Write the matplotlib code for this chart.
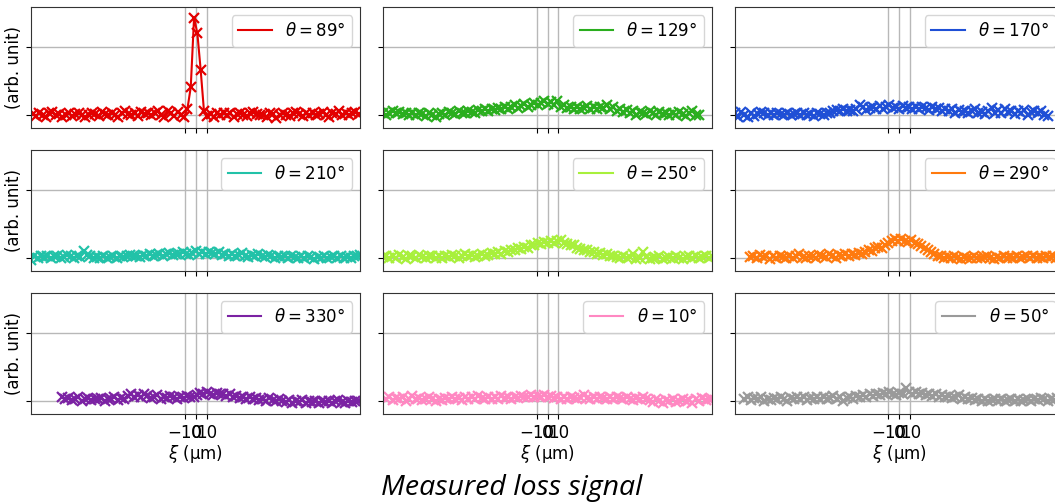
import numpy as np
import matplotlib
matplotlib.use("Agg")
import matplotlib.pyplot as plt

# scan step of the measurement (µm) and start position of each scan
step = 3.0
angles = [89, 129, 170, 210, 250, 290, 330, 10, 50]
colors = ['#e30000', '#2aae1e', '#1f4fd6', '#22c2a8', '#a8f03c',
          '#ff7a0e', '#7b22a3', '#ff88c2', '#9a9a9a']
x_start = [-148.5, -150, -150, -150, -150, -136, -122, -147, -141]

# loss signal (arb. unit)
y89 = [0.01, -0.02, 0.03, 0.00, -0.03, 0.02, 0.04, -0.01, 0.01, -0.03,
       0.00, 0.02, -0.02, 0.01, 0.03, -0.01, -0.04, 0.00, 0.02, 0.01,
       -0.02, 0.04, 0.01, -0.01, 0.03, 0.00, -0.03, 0.02, 0.05, 0.01,
       0.00, 0.03, -0.02, 0.04, 0.01, 0.02, -0.01, 0.03, 0.05, 0.00,
       -0.04, 0.06, 0.02, -0.02, 0.04, 0.00, -0.03,
       0.09, 0.41, 1.44, 1.21, 0.67, 0.06,
       -0.02, 0.01, -0.03, 0.02, 0.00, 0.03, -0.01,
       0.02, -0.04, 0.01, 0.03, 0.00, -0.02, 0.02, 0.04, 0.01, -0.01,
       0.00, -0.03, 0.02, 0.01, -0.05, -0.01, 0.03, 0.00, -0.02, 0.02,
       0.04, 0.01, -0.02, 0.03, 0.00, 0.02, -0.01, 0.01, 0.04, 0.00,
       -0.03, 0.02, 0.01, 0.05, -0.01, 0.02, 0.00, 0.03, 0.04, 0.01]
y129 = [0.02, -0.01, 0.03, 0.05, 0.02, 0.04, 0.01, 0.03, -0.01, 0.02, 0.00, 0.03, 0.01, -0.02, 0.02, 0.00, -0.03,
        0.01, 0.03, 0.00, 0.04, 0.02, 0.01, 0.05, 0.03, 0.02, 0.06, 0.04, 0.03, 0.07,
        0.05, 0.08, 0.06, 0.09, 0.07, 0.10, 0.08, 0.12, 0.09, 0.11, 0.14, 0.10, 0.13, 0.16,
        0.12, 0.15, 0.18, 0.14, 0.17, 0.20, 0.16, 0.19, 0.15, 0.21,
        0.12, 0.14, 0.10, 0.11, 0.08, 0.12, 0.09, 0.10, 0.13, 0.08, 0.11, 0.09, 0.12,
        0.10, 0.14, 0.08, 0.11, 0.06, 0.09, 0.04, 0.07, 0.02, 0.05, -0.01, 0.04, 0.03,
        0.01, 0.05, 0.02, 0.00, 0.04, 0.01, 0.03, -0.01, 0.02, 0.00, 0.04, 0.01, -0.02, 0.03, 0.06, 0.00, -0.01]
y170 = [0.02, -0.03, 0.04, 0.00, -0.04, 0.03, -0.02, 0.01, 0.04, 0.02,
        -0.01, 0.03, 0.00, 0.02, 0.01, -0.01, 0.02, 0.00, 0.01, 0.03,
        -0.01, 0.02, 0.00, 0.01, -0.02, 0.02, 0.01, 0.00, 0.03, 0.02,
        0.05, 0.07, 0.06, 0.08, 0.05, 0.07, 0.06, 0.09, 0.15, 0.11,
        0.07, 0.10, 0.12, 0.08, 0.13, 0.09, 0.11, 0.14, 0.10, 0.12,
        0.09, 0.13, 0.10, 0.12, 0.08, 0.11, 0.09, 0.12, 0.10, 0.07, 0.11, 0.08, 0.10, 0.06,
        0.09, 0.05, 0.08, 0.03, 0.07, 0.04, 0.06, 0.02, 0.05, 0.08, 0.03, 0.04, 0.01, 0.06,
        0.10, 0.03, 0.07, 0.02, 0.08, 0.04, 0.06, 0.01, 0.05, 0.03, 0.07, 0.00, 0.04, 0.06, 0.02, 0.05, 0.00, -0.02]
y210 = [-0.03, 0.02, 0.00, 0.03, 0.01, 0.02, -0.01, 0.03, 0.02, 0.00, 0.01, 0.04, 0.02, 0.00, 0.03, 0.01, 0.10, 0.04, 0.02, -0.01,
        0.01, -0.01, 0.02, 0.00, 0.01, 0.03, 0.00, 0.02, 0.01, 0.03, 0.04, 0.02, 0.03, 0.01, 0.04, 0.02, 0.05, 0.03, 0.04, 0.06,
        0.03, 0.05, 0.07, 0.04, 0.06, 0.05, 0.08, 0.06, 0.04, 0.07, 0.10, 0.06, 0.08, 0.05, 0.09, 0.07, 0.05, 0.08, 0.04, 0.06,
        0.03, 0.05, 0.02, 0.04, 0.07, 0.03, 0.01, 0.04, 0.02, 0.05, 0.03, 0.01, 0.04, 0.02, 0.00, 0.03, 0.01, 0.02, 0.00, 0.03,
        0.01, -0.01, 0.02, 0.00, 0.03, 0.01, -0.02, 0.01, 0.00, 0.02, -0.01, 0.01, 0.03, 0.00, 0.02, -0.01, 0.01, 0.00, 0.03, 0.02, 0.04]
y250 = [0.01, 0.03, -0.01, 0.02, 0.00, 0.04, 0.01, -0.02, 0.03, 0.02, 0.00, 0.04, 0.01, -0.01, 0.02, 0.03, 0.00, 0.02, -0.01, 0.03,
        0.01, 0.04, 0.02, 0.00, 0.03, 0.05, 0.02, 0.04, 0.01, 0.03, 0.06, 0.02, 0.04, 0.07, 0.05, 0.08, 0.06, 0.10, 0.08, 0.12,
        0.11, 0.14, 0.13, 0.16, 0.15, 0.19, 0.18, 0.21, 0.20, 0.23, 0.22, 0.25, 0.21, 0.24, 0.26, 0.22, 0.20, 0.18, 0.19, 0.15,
        0.13, 0.11, 0.12, 0.08, 0.09, 0.06, 0.07, 0.04, 0.05, 0.02, 0.03, 0.01, 0.00, 0.02, -0.01, 0.01, 0.05, -0.02, 0.00, 0.08,
        0.01, -0.02, 0.00, -0.01, 0.02, -0.02, 0.00, 0.01, -0.01, 0.02, 0.00, -0.02, 0.01, 0.03, 0.00, 0.02, -0.01, 0.01, 0.03, 0.00, 0.02]
y290 = [0.01, 0.03, 0.00, 0.04, 0.01, 0.02, -0.02, 0.03, 0.00, 0.02, 0.01, -0.01, 0.03, 0.00, 0.02, 0.05, 0.01, -0.01, 0.03, 0.02,
        0.00, 0.04, 0.02, 0.01, 0.05, 0.03, 0.00, 0.04, 0.02, 0.06, 0.03, 0.05, 0.04, 0.07, 0.05, 0.09, 0.12, 0.10, 0.14, 0.16,
        0.15, 0.19, 0.22, 0.25, 0.27, 0.24, 0.28, 0.25, 0.23, 0.26, 0.22, 0.20, 0.17, 0.15, 0.11, 0.08, 0.06, 0.03, 0.02, 0.00,
        0.01, -0.01, 0.02, 0.00, -0.02, 0.01, 0.00, -0.01, 0.02, 0.00, -0.01, 0.01, 0.03, 0.00, -0.02, 0.01, 0.00, 0.02, -0.01, 0.01,
        0.00, 0.02, -0.01, 0.01, 0.03, 0.00, 0.02, -0.01, 0.01, 0.00, 0.02, 0.01, 0.03, 0.00, 0.02, 0.04]
y330 = [0.05, 0.02, 0.04, 0.01, 0.03, 0.05, 0.00, 0.02, 0.04, 0.01, 0.03, 0.02, 0.04, 0.00, 0.03, 0.02, 0.05, 0.01, 0.04, 0.03,
        0.07, 0.09, 0.06, 0.08, 0.05, 0.09, 0.07, 0.04, 0.06, 0.08, 0.03, 0.06, 0.04, 0.07, 0.05, 0.03, 0.06, 0.04, 0.07, 0.05,
        0.06, 0.08, 0.11, 0.09, 0.12, 0.10, 0.08, 0.11, 0.09, 0.10, 0.07, 0.09, 0.05, 0.07, 0.04, 0.06, 0.03, 0.05, 0.02, 0.04,
        0.01, 0.03, 0.00, 0.04, 0.01, -0.01, 0.02, 0.00, -0.02, 0.01, -0.03, 0.00, -0.02, 0.01, -0.04, -0.01, -0.02, 0.00, -0.03, -0.01,
        -0.02, 0.00, -0.03, -0.01, 0.01, -0.02, -0.04, -0.01, -0.02, 0.00, -0.01]
y10 = [0.03, 0.06, 0.01, 0.04, 0.02, 0.05, 0.00, 0.03, 0.07, 0.02, 0.04, 0.01, 0.03, 0.06, 0.02, -0.01, 0.03, 0.01, 0.04, 0.02,
       0.05, 0.02, 0.04, 0.01, 0.06, 0.03, 0.05, 0.02, 0.07, 0.04, 0.03, 0.06, 0.02, 0.05, 0.03, 0.07, 0.04, 0.06, 0.03, 0.05,
       0.04, 0.07, 0.05, 0.06, 0.08, 0.05, 0.07, 0.06, 0.08, 0.05, 0.07, 0.04, 0.06, 0.03, 0.05, 0.02, 0.06, 0.04, 0.03, 0.05,
       0.08, 0.04, 0.02, 0.05, 0.03, 0.06, 0.04, 0.02, 0.05, 0.03, 0.06, 0.04, 0.02, 0.05, 0.03, 0.01, 0.04, 0.02, 0.05, 0.03,
       0.01, -0.02, 0.02, 0.00, -0.03, 0.01, -0.01, 0.02, -0.02, 0.00, 0.03, -0.01, 0.01, -0.03, 0.02, 0.00, 0.04, 0.01, 0.03, 0.02]
y50 = [0.03, 0.06, 0.01, 0.04, 0.02, 0.05, 0.00, 0.03, 0.01, 0.04, 0.02, 0.05, 0.03, 0.00, 0.04, 0.02, 0.05, 0.03, 0.06, 0.01,
       0.04, 0.02, 0.05, 0.03, 0.06, 0.02, 0.04, 0.07, 0.03, 0.05, -0.01, 0.04, 0.06, 0.03, 0.07, 0.05, 0.08, 0.06, 0.09, 0.07,
       0.10, 0.08, 0.11, 0.09, 0.12, 0.10, 0.08, 0.11, 0.09, 0.19, 0.13, 0.10, 0.12, 0.09, 0.11, 0.08, 0.10, 0.07, 0.09, 0.06,
       0.08, 0.05, 0.07, 0.04, 0.06, 0.08, 0.03, 0.05, 0.02, 0.04, 0.01, 0.03, 0.00, 0.02, -0.01, 0.01, 0.03, 0.00, 0.02, -0.01,
       0.01, 0.03, 0.00, 0.02, -0.01, 0.01, 0.03, 0.00, 0.02, 0.01, 0.04, 0.02, 0.00, 0.03, 0.01, 0.04, 0.02, 0.05]
signals = [y89, y129, y170, y210, y250, y290, y330, y10, y50]

plt.rcParams['font.size'] = 12

W, H = 1055, 504
fig = plt.figure(figsize=(W / 100, H / 100), dpi=100)
gs = fig.add_gridspec(3, 3, left=31 / W, right=1064 / W, bottom=1 - 414 / H, top=1 - 7 / H,
                      wspace=0.068, hspace=0.18)
axes = gs.subplots(sharex=True, sharey=True)

for i, ax in enumerate(axes.flat):
    y = np.array(signals[i])
    x = x_start[i] + step * np.arange(len(y))
    ax.plot(x, y, '-', color=colors[i], lw=1.5, label=r'$\theta = %d°$' % angles[i])
    ax.plot(x, y, 'x', color=colors[i], ms=6.5, mew=1.6)
    ax.grid(True, color='#b8b8b8', lw=1.0)
    ax.legend(loc='upper right', fontsize=12)
    ax.tick_params(labelleft=False)
    for s in ax.spines.values():
        s.set_color('#333333')

ax0 = axes[0, 0]
ax0.set_xlim(-150, 150)
ax0.set_ylim(-0.2, 1.6)
ax0.set_xticks([-10, 0, 10])
ax0.set_yticks([0, 1])

for ax in axes[:, 0]:
    ax.set_ylabel('(arb. unit)', labelpad=2)
for ax in axes[-1, :]:
    ax.set_xlabel(r'$\xi$ (µm)', labelpad=1)

fig.text(512 / W, 1 - 488 / H, 'Measured loss signal', ha='center', va='center',
         fontsize=20.5, style='italic', family='Open Sans')

fig.savefig('out.png', dpi=100)
